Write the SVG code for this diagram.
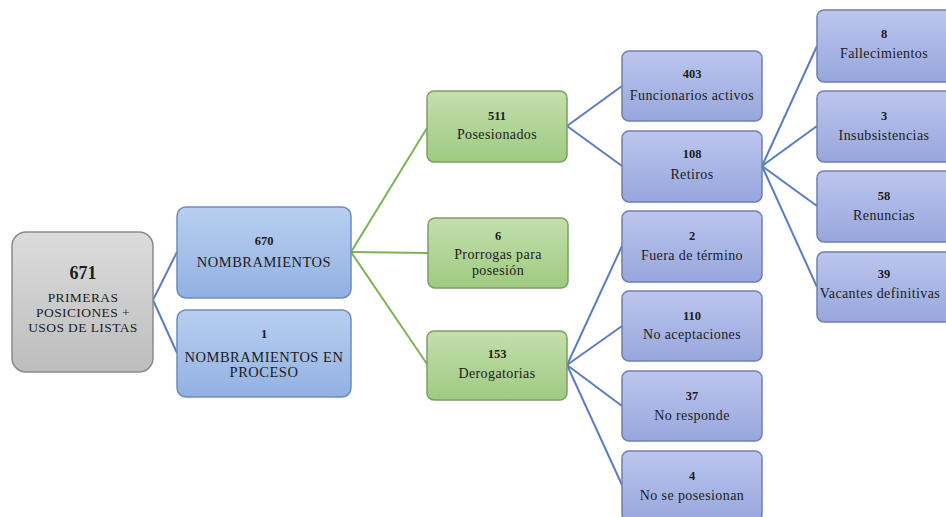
<svg xmlns="http://www.w3.org/2000/svg" width="946" height="517" viewBox="0 0 946 517">
<defs>
<linearGradient id="gGrey" x1="0" y1="0" x2="0" y2="1"><stop offset="0" stop-color="#dcdcdc"/><stop offset="1" stop-color="#bdbdbd"/></linearGradient>
<linearGradient id="gBlue" x1="0" y1="0" x2="0" y2="1"><stop offset="0" stop-color="#b8cff0"/><stop offset="1" stop-color="#92b1e2"/></linearGradient>
<linearGradient id="gGreen" x1="0" y1="0" x2="0" y2="1"><stop offset="0" stop-color="#c3dfae"/><stop offset="1" stop-color="#9fca80"/></linearGradient>
<linearGradient id="gPurple" x1="0" y1="0" x2="0" y2="1"><stop offset="0" stop-color="#bcc6ee"/><stop offset="1" stop-color="#97a6dc"/></linearGradient>
</defs>
<style>
.grey{fill:url(#gGrey);stroke:#8a8a8a;stroke-width:1.5}
.blue{fill:url(#gBlue);stroke:#6f8cba;stroke-width:1.5}
.green{fill:url(#gGreen);stroke:#7d9e63;stroke-width:1.5}
.purple{fill:url(#gPurple);stroke:#717fb0;stroke-width:1.5}
text{font-family:"Liberation Serif","Times New Roman",serif;fill:#1c1c1c;text-anchor:middle}
.cap{font-size:13.5px;letter-spacing:0.4px}
.capb{font-size:14.5px;letter-spacing:0.5px}
.num{font-size:12.5px;font-weight:bold}
.big{font-size:18px;font-weight:bold}
.lbl{font-size:14px;letter-spacing:0.4px}
.lb{stroke:#5b7dc0;stroke-width:2;fill:none}
.lg{stroke:#7cb257;stroke-width:2;fill:none}
</style>
<g id="connectors">
<line class="lb" x1="153" y1="300" x2="177" y2="252"/>
<line class="lb" x1="153" y1="300" x2="177" y2="353"/>
<line class="lg" x1="351" y1="252" x2="427" y2="128"/>
<line class="lg" x1="351" y1="252" x2="428" y2="253"/>
<line class="lg" x1="351" y1="252" x2="427" y2="364"/>
<line class="lb" x1="567" y1="126" x2="622" y2="86"/>
<line class="lb" x1="567" y1="126" x2="622" y2="166"/>
<line class="lb" x1="567" y1="365" x2="622" y2="246"/>
<line class="lb" x1="567" y1="365" x2="622" y2="326"/>
<line class="lb" x1="567" y1="365" x2="622" y2="406"/>
<line class="lb" x1="567" y1="365" x2="622" y2="485"/>
<line class="lb" x1="762" y1="166" x2="817" y2="46"/>
<line class="lb" x1="762" y1="166" x2="817" y2="126"/>
<line class="lb" x1="762" y1="166" x2="817" y2="206"/>
<line class="lb" x1="762" y1="166" x2="817" y2="287"/>
</g>
<g id="n671"><rect class="grey" x="12" y="232" width="141" height="140" rx="14"/>
<text class="big" x="83" y="279">671</text>
<text class="cap" x="83" y="302">PRIMERAS</text>
<text class="cap" x="83" y="317">POSICIONES +</text>
<text class="cap" x="83" y="332">USOS DE LISTAS</text></g>
<g id="n670"><rect class="blue" x="177" y="207" width="174" height="91" rx="9"/>
<text class="num" x="264" y="245">670</text>
<text class="capb" x="264" y="267">NOMBRAMIENTOS</text></g>
<g id="n1"><rect class="blue" x="177" y="310" width="174" height="87" rx="9"/>
<text class="num" x="264" y="338">1</text>
<text class="capb" x="264" y="362">NOMBRAMIENTOS EN</text>
<text class="capb" x="264" y="377">PROCESO</text></g>
<g id="n511"><rect class="green" x="427" y="91" width="140" height="71" rx="7"/>
<text class="num" x="497" y="120">511</text>
<text class="lbl" x="497" y="139">Posesionados</text></g>
<g id="n6"><rect class="green" x="428" y="218" width="140" height="70" rx="7"/>
<text class="num" x="498" y="240">6</text>
<text class="lbl" x="498" y="259">Prorrogas para</text>
<text class="lbl" x="498" y="275">posesión</text></g>
<g id="n153"><rect class="green" x="427" y="331" width="140" height="69" rx="7"/>
<text class="num" x="497" y="358">153</text>
<text class="lbl" x="497" y="378">Derogatorias</text></g>
<g id="n403"><rect class="purple" x="622" y="51" width="140" height="70" rx="7"/>
<text class="num" x="692" y="78">403</text>
<text class="lbl" x="692" y="100">Funcionarios activos</text></g>
<g id="n108"><rect class="purple" x="622" y="131" width="140" height="71" rx="7"/>
<text class="num" x="692" y="158">108</text>
<text class="lbl" x="692" y="179">Retiros</text></g>
<g id="n2"><rect class="purple" x="622" y="211" width="140" height="71" rx="7"/>
<text class="num" x="692" y="240">2</text>
<text class="lbl" x="692" y="260">Fuera de término</text></g>
<g id="n110"><rect class="purple" x="622" y="291" width="140" height="70" rx="7"/>
<text class="num" x="692" y="320">110</text>
<text class="lbl" x="692" y="339">No aceptaciones</text></g>
<g id="n37"><rect class="purple" x="622" y="371" width="140" height="70" rx="7"/>
<text class="num" x="692" y="400">37</text>
<text class="lbl" x="692" y="420">No responde</text></g>
<g id="n4"><rect class="purple" x="622" y="451" width="140" height="70" rx="7"/>
<text class="num" x="692" y="480">4</text>
<text class="lbl" x="692" y="500">No se posesionan</text></g>
<g id="n8"><rect class="purple" x="817" y="10" width="136" height="72" rx="7"/>
<text class="num" x="884" y="38">8</text>
<text class="lbl" x="884" y="58">Fallecimientos</text></g>
<g id="n3"><rect class="purple" x="817" y="91" width="136" height="71" rx="7"/>
<text class="num" x="884" y="120">3</text>
<text class="lbl" x="884" y="140">Insubsistencias</text></g>
<g id="n58"><rect class="purple" x="817" y="171" width="136" height="71" rx="7"/>
<text class="num" x="884" y="200">58</text>
<text class="lbl" x="884" y="220">Renuncias</text></g>
<g id="n39"><rect class="purple" x="817" y="252" width="136" height="70" rx="7"/>
<text class="num" x="884" y="278">39</text>
<text class="lbl" x="880" y="298">Vacantes definitivas</text></g>
</svg>
